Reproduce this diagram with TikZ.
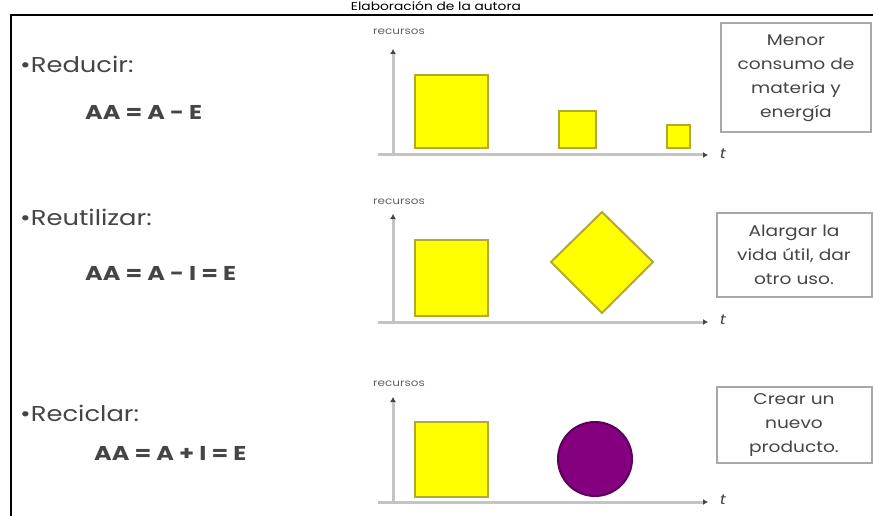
\documentclass[tikz,border=0pt]{standalone}
\usepackage{fontspec}
\setmainfont[FakeStretch=1.2]{Poppins}
\usetikzlibrary{arrows.meta}
\definecolor{txt}{HTML}{454545}
\definecolor{boxline}{HTML}{A8A8A8}
\definecolor{axisgray}{HTML}{C4C4C4}
\definecolor{sqborder}{HTML}{B5A830}
\definecolor{sqfill}{HTML}{FFFF00}
\definecolor{purp}{HTML}{85007F}
\definecolor{purpb}{HTML}{5A0058}
\tikzset{
  x=1pt, y=-1pt,
  frameline/.style={line width=2pt, black},
  bullettxt/.style={anchor=west, text=txt, font=\fontsize{21.5}{23}\selectfont, inner sep=0pt},
  eqtxt/.style={anchor=west, text=txt, font=\bfseries\fontsize{20}{22}\selectfont, inner sep=0pt},
  reclabel/.style={text=txt!85, font=\fontsize{10}{11}\selectfont, inner sep=0pt},
  axisline/.style={draw=axisgray, line width=3pt, -{Latex[length=5pt,width=6pt,color=txt]}},
  tlabel/.style={text=txt, font=\itshape\fontsize{14}{15}\selectfont, inner sep=0pt},
  infobox/.style={draw=boxline, line width=2pt, fill=white, text=txt, align=center,
    font=\fontsize{15.5}{24}\selectfont, inner sep=0pt},
  yelsq/.style={draw=sqborder, fill=sqfill, line width=2pt},
  purpcirc/.style={draw=purpb, fill=purp, line width=2pt}
}
\begin{document}
\begin{tikzpicture}
\useasboundingbox (0,0) rectangle (873,516);
% title and frame
\node[font=\fontsize{11.5}{13}\selectfont, anchor=base, inner sep=0pt] (title) at (436,11) {Elaboración de la autora};
\coordinate (ftl) at (11,15);
\coordinate (ftr) at (873,15);
\coordinate (fbl) at (11,516);
\draw[frameline] (ftr) -- (ftl) -- (fbl);

% ---------- Row 1: Reducir ----------
\node[bullettxt] (r1) at (20,64) {•Reducir:};
\node[eqtxt] (e1) at (85,112) {AA = A - E};
\node[reclabel] (l1) at (399,32) {recursos};
\coordinate (o1) at (393,155);
\coordinate (y1) at (393,49);
\coordinate (xs1) at (378,155);
\coordinate (x1) at (708,155);
\draw[axisline] (o1) -- (y1);
\draw[axisline] (xs1) -- (x1);
\node[tlabel] (t1) at (723,154) {t};
\draw[yelsq] (415,75) rectangle (488,148);
\draw[yelsq] (559,111) rectangle (596,148);
\draw[yelsq] (667,125) rectangle (690,148);
\node[infobox, minimum width=150pt, minimum height=109pt] (b1) at (796,78)
  {Menor\\consumo de\\materia y\\energía};

% ---------- Row 2: Reutilizar ----------
\node[bullettxt] (r2) at (20,217) {•Reutilizar:};
\node[eqtxt] (e2) at (85,273) {AA = A - I = E};
\node[reclabel] (l2) at (399,202) {recursos};
\coordinate (o2) at (393,322);
\coordinate (y2) at (393,214);
\coordinate (xs2) at (378,322);
\coordinate (x2) at (708,322);
\draw[axisline] (o2) -- (y2);
\draw[axisline] (xs2) -- (x2);
\node[tlabel] (t2) at (723,320) {t};
\draw[yelsq] (415,240) rectangle (488,316);
\draw[yelsq] (602,212) -- (653,262) -- (602,313) -- (551,262) -- cycle;
\node[infobox, minimum width=155pt, minimum height=84pt] (b2) at (794,254.5)
  {Alargar la\\vida útil, dar\\otro uso.};

% ---------- Row 3: Reciclar ----------
\node[bullettxt] (r3) at (20,413) {•Reciclar:};
\node[eqtxt] (e3) at (94,453) {AA = A + I = E};
\node[reclabel] (l3) at (399,384) {recursos};
\coordinate (o3) at (393,502);
\coordinate (y3) at (393,397);
\coordinate (xs3) at (378,502);
\coordinate (x3) at (708,502);
\draw[axisline] (o3) -- (y3);
\draw[axisline] (xs3) -- (x3);
\node[tlabel] (t3) at (723,500) {t};
\draw[yelsq] (415,422) rectangle (488,497);
\draw[purpcirc] (595,459) circle (37);
\node[infobox, minimum width=155pt, minimum height=76pt] (b3) at (794,425)
  {Crear un\\nuevo\\producto.};
\end{tikzpicture}
\end{document}
